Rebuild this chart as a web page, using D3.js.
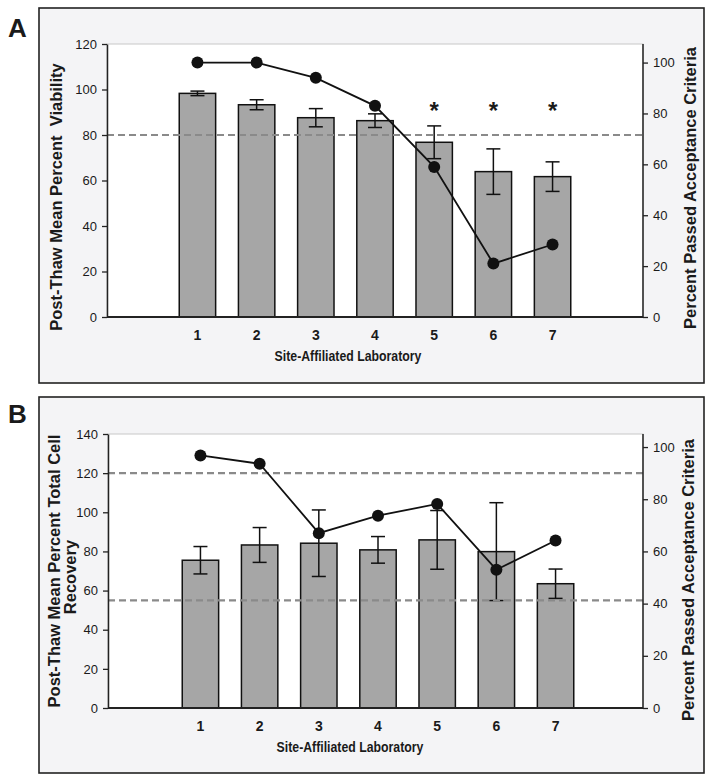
<!DOCTYPE html>
<html>
<head>
<meta charset="utf-8">
<script src="https://cdn.jsdelivr.net/npm/d3@7"></script>
<style>
  html, body { margin: 0; padding: 0; background: #ffffff; }
  svg { display: block; }
  text { font-family: "Liberation Sans", Arial, Helvetica, sans-serif; fill: #1a1a1a; }
</style>
</head>
<body>
<svg id="chart" width="714" height="783"></svg>
<script>
// ---------------- DATA ----------------
const labs = ["1", "2", "3", "4", "5", "6", "7"];

// Panel A: post-thaw viability
const viabilityMean   = [98.3, 93.3, 87.6, 86.3, 76.8, 63.9, 61.7];
const viabilityErr    = [1.0, 2.2, 4.0, 3.0, 7.2, 10.0, 6.5];
const viabilityPassed = [100, 100, 94, 83, 59, 21, 28.5];
const viabilitySignif = [false, false, false, false, true, true, true];
const viabilityThresholds = [80];
const viabilityTicks = [0, 20, 40, 60, 80, 100, 120];

// Panel B: post-thaw total cell recovery
const recoveryMean   = [75.5, 83.3, 84.2, 80.8, 85.9, 79.9, 63.5];
const recoveryErr    = [7.0, 8.9, 17.0, 6.8, 15.0, 25.0, 7.5];
const recoveryPassed = [96.8, 93.6, 67.0, 73.7, 78.2, 53.0, 64.2];
const recoverySignif = [false, false, false, false, false, false, false];
const recoveryThresholds = [55, 120];
const recoveryTicks = [0, 20, 40, 60, 80, 100, 120, 140];

const passedTicks = [0, 20, 40, 60, 80, 100];

// ---------------- DRAW ----------------
const svg = d3.select("#chart");

function drawPanel(cfg) {
  const g = svg.append("g");
  const f = cfg.frame, p = cfg.plot;

  // outer frame
  g.append("rect")
    .attr("x", f.x).attr("y", f.y).attr("width", f.w).attr("height", f.h)
    .attr("fill", "#f4f4f6").attr("stroke", "#222").attr("stroke-width", 1.6);

  // panel letter
  g.append("text").attr("x", cfg.letterX).attr("y", cfg.letterY)
    .attr("font-size", 26).attr("font-weight", "bold").text(cfg.letter);

  // plot area
  g.append("rect")
    .attr("x", p.l).attr("y", p.t).attr("width", p.r - p.l).attr("height", p.b - p.t)
    .attr("fill", "#ffffff").attr("stroke", "#c8c8c8").attr("stroke-width", 1);

  const x = d3.scaleBand().domain(labs).range(cfg.xRange).paddingInner(0.385).paddingOuter(0.19);
  const yL = d3.scaleLinear().domain(cfg.leftDomain).range([p.b, p.t]);
  const yR = d3.scaleLinear().domain(cfg.rightDomain).range([p.b, p.t]);

  // bars
  g.selectAll(".bar").data(cfg.mean).join("rect")
    .attr("x", (d, i) => x(labs[i]))
    .attr("width", x.bandwidth())
    .attr("y", d => yL(d))
    .attr("height", d => yL(0) - yL(d))
    .attr("fill", "#a6a6a6").attr("stroke", "#111").attr("stroke-width", 1.5);

  // error bars
  const cap = 7;
  const eg = g.append("g").attr("stroke", "#111").attr("stroke-width", 1.5);
  cfg.mean.forEach((m, i) => {
    const cx = x(labs[i]) + x.bandwidth() / 2;
    const e = cfg.err[i];
    eg.append("line").attr("x1", cx).attr("x2", cx).attr("y1", yL(m + e)).attr("y2", yL(m - e));
    eg.append("line").attr("x1", cx - cap).attr("x2", cx + cap).attr("y1", yL(m + e)).attr("y2", yL(m + e));
    eg.append("line").attr("x1", cx - cap).attr("x2", cx + cap).attr("y1", yL(m - e)).attr("y2", yL(m - e));
  });

  // threshold dashed lines
  g.selectAll(".thr").data(cfg.thresholds).join("line")
    .attr("x1", p.l).attr("x2", p.r)
    .attr("y1", d => yL(d)).attr("y2", d => yL(d))
    .attr("stroke", "#8a8a8a").attr("stroke-width", 2.2).attr("stroke-dasharray", "7,4");

  // line of percent passed (right axis)
  const line = d3.line()
    .x((d, i) => x(labs[i]) + x.bandwidth() / 2)
    .y(d => yR(d));
  g.append("path").datum(cfg.passed).attr("d", line)
    .attr("fill", "none").attr("stroke", "#111").attr("stroke-width", 1.8);
  g.selectAll(".pt").data(cfg.passed).join("circle")
    .attr("cx", (d, i) => x(labs[i]) + x.bandwidth() / 2)
    .attr("cy", d => yR(d)).attr("r", 6).attr("fill", "#111");

  // significance asterisks
  g.selectAll(".ast").data(cfg.signif).join("text")
    .filter(d => d)
    .attr("x", (d, i) => x(labs[cfg.signif.indexOf(true) + i]) + x.bandwidth() / 2)
    .attr("y", yL(cfg.asteriskLevel))
    .attr("text-anchor", "middle").attr("font-size", 24).attr("font-weight", "bold")
    .text("*");

  // left axis
  const la = g.append("g").attr("transform", `translate(${p.l},0)`)
    .call(d3.axisLeft(yL).tickValues(cfg.leftTicks).tickSize(5).tickSizeOuter(0).tickPadding(5));
  la.select(".domain").attr("stroke", "#222").attr("stroke-width", 1.5);
  la.selectAll(".tick line").attr("stroke", "#222").attr("stroke-width", 1.3);
  la.selectAll(".tick text").attr("font-size", 13).attr("fill", "#1a1a1a")
    .style("font-family", "'Liberation Sans', Arial, sans-serif");

  // right axis
  const ra = g.append("g").attr("transform", `translate(${p.r},0)`)
    .call(d3.axisRight(yR).tickValues(passedTicks).tickSize(5).tickSizeOuter(0).tickPadding(5));
  ra.select(".domain").attr("stroke", "#222").attr("stroke-width", 1.5)
    .attr("d", `M0,${p.b}V${p.t}`);
  ra.selectAll(".tick line").attr("stroke", "#222").attr("stroke-width", 1.3);
  ra.selectAll(".tick text").attr("font-size", 13).attr("fill", "#1a1a1a")
    .style("font-family", "'Liberation Sans', Arial, sans-serif");

  // bottom axis
  g.append("line").attr("x1", p.l).attr("x2", p.r).attr("y1", p.b).attr("y2", p.b)
    .attr("stroke", "#222").attr("stroke-width", 2);
  const ba = g.append("g").attr("transform", `translate(0,${p.b})`)
    .call(d3.axisBottom(x).tickSize(0).tickPadding(13));
  ba.select(".domain").remove();
  ba.selectAll(".tick text").attr("font-size", 14).attr("font-weight", "bold").attr("fill", "#1a1a1a")
    .style("font-family", "'Liberation Sans', Arial, sans-serif");

  // x title
  g.append("text")
    .attr("transform", `translate(${cfg.xTitleX},${p.b + 44}) scale(0.82,1)`)
    .attr("text-anchor", "middle").attr("font-size", 15).attr("font-weight", "bold")
    .text("Site-Affiliated Laboratory");

  // left title(s)
  cfg.leftTitle.forEach((t, k) => {
    g.append("text")
      .attr("transform", `translate(${t.x},${t.cy}) rotate(-90)`)
      .attr("text-anchor", "middle").attr("font-size", 16.5).attr("font-weight", "bold")
      .style("white-space", "pre")
      .text(t.text);
  });

  // right title
  g.append("text")
    .attr("transform", `translate(${cfg.rightTitle.x},${cfg.rightTitle.cy}) rotate(-90)`)
    .attr("text-anchor", "middle").attr("font-size", 16.5).attr("font-weight", "bold")
    .text("Percent Passed Acceptance Criteria");
}

drawPanel({
  letter: "A", letterX: 8, letterY: 37,
  frame: { x: 39, y: 8, w: 665, h: 375 },
  plot: { l: 107, r: 643, t: 44, b: 317 },
  xRange: [168, 582],
  leftDomain: [0, 120], rightDomain: [0, 107.3],
  leftTicks: viabilityTicks,
  mean: viabilityMean, err: viabilityErr, passed: viabilityPassed,
  signif: viabilitySignif, asteriskLevel: 87,
  thresholds: viabilityThresholds,
  xTitleX: 348,
  leftTitle: [{ x: 62, cy: 197, text: "Post-Thaw Mean Percent\u00a0\u00a0Viability" }],
  rightTitle: { x: 696, cy: 188 }
});

drawPanel({
  letter: "B", letterX: 8, letterY: 423,
  frame: { x: 39, y: 397, w: 665, h: 376 },
  plot: { l: 108, r: 643, t: 434, b: 708 },
  xRange: [171, 585],
  leftDomain: [0, 140], rightDomain: [0, 105],
  leftTicks: recoveryTicks,
  mean: recoveryMean, err: recoveryErr, passed: recoveryPassed,
  signif: recoverySignif, asteriskLevel: 130,
  thresholds: recoveryThresholds,
  xTitleX: 350,
  leftTitle: [
    { x: 60, cy: 571, text: "Post-Thaw Mean Percent Total Cell" },
    { x: 76, cy: 577, text: "Recovery" }
  ],
  rightTitle: { x: 694, cy: 580 }
});
</script>
</body>
</html>
